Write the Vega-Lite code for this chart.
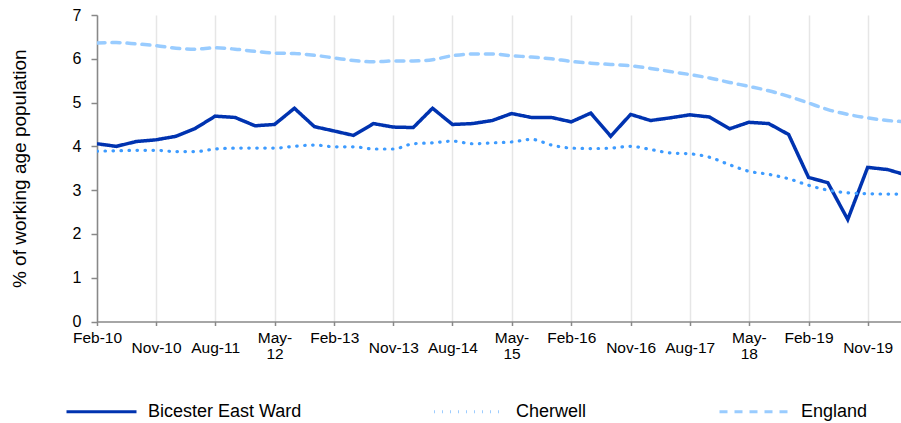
{
  "$schema": "https://vega.github.io/schema/vega-lite/v6.json",
  "width": 804,
  "height": 306.5,
  "autosize": {"type": "none"},
  "padding": {"left": 97, "top": 15, "right": 0, "bottom": 101.5},
  "background": "white",
  "config": {"view": {"stroke": null}, "font": "Liberation Sans"},
  "data": {"values": [
    {"d": "2010-02-01", "Bicester East Ward": 4.06, "Cherwell": 3.89, "England": 6.36},
    {"d": "2010-05-01", "Bicester East Ward": 4.00, "Cherwell": 3.90, "England": 6.37},
    {"d": "2010-08-01", "Bicester East Ward": 4.11, "Cherwell": 3.91, "England": 6.34},
    {"d": "2010-11-01", "Bicester East Ward": 4.15, "Cherwell": 3.91, "England": 6.30},
    {"d": "2011-02-01", "Bicester East Ward": 4.23, "Cherwell": 3.88, "England": 6.24},
    {"d": "2011-05-01", "Bicester East Ward": 4.41, "Cherwell": 3.88, "England": 6.22},
    {"d": "2011-08-01", "Bicester East Ward": 4.69, "Cherwell": 3.94, "England": 6.25},
    {"d": "2011-11-01", "Bicester East Ward": 4.66, "Cherwell": 3.96, "England": 6.22},
    {"d": "2012-02-01", "Bicester East Ward": 4.47, "Cherwell": 3.96, "England": 6.17},
    {"d": "2012-05-01", "Bicester East Ward": 4.50, "Cherwell": 3.96, "England": 6.13},
    {"d": "2012-08-01", "Bicester East Ward": 4.87, "Cherwell": 4.00, "England": 6.12},
    {"d": "2012-11-01", "Bicester East Ward": 4.45, "Cherwell": 4.03, "England": 6.08},
    {"d": "2013-02-01", "Bicester East Ward": 4.35, "Cherwell": 3.99, "England": 6.02},
    {"d": "2013-05-01", "Bicester East Ward": 4.25, "Cherwell": 3.99, "England": 5.96},
    {"d": "2013-08-01", "Bicester East Ward": 4.52, "Cherwell": 3.94, "England": 5.93},
    {"d": "2013-11-01", "Bicester East Ward": 4.44, "Cherwell": 3.94, "England": 5.95},
    {"d": "2014-02-01", "Bicester East Ward": 4.43, "Cherwell": 4.06, "England": 5.95},
    {"d": "2014-05-01", "Bicester East Ward": 4.87, "Cherwell": 4.08, "England": 5.98},
    {"d": "2014-08-01", "Bicester East Ward": 4.50, "Cherwell": 4.12, "England": 6.07},
    {"d": "2014-11-01", "Bicester East Ward": 4.52, "Cherwell": 4.06, "England": 6.11},
    {"d": "2015-02-01", "Bicester East Ward": 4.59, "Cherwell": 4.08, "England": 6.11},
    {"d": "2015-05-01", "Bicester East Ward": 4.75, "Cherwell": 4.10, "England": 6.07},
    {"d": "2015-08-01", "Bicester East Ward": 4.66, "Cherwell": 4.16, "England": 6.04},
    {"d": "2015-11-01", "Bicester East Ward": 4.66, "Cherwell": 4.03, "England": 6.00},
    {"d": "2016-02-01", "Bicester East Ward": 4.56, "Cherwell": 3.96, "England": 5.94},
    {"d": "2016-05-01", "Bicester East Ward": 4.76, "Cherwell": 3.95, "England": 5.90},
    {"d": "2016-08-01", "Bicester East Ward": 4.23, "Cherwell": 3.96, "England": 5.87},
    {"d": "2016-11-01", "Bicester East Ward": 4.73, "Cherwell": 4.00, "England": 5.84},
    {"d": "2017-02-01", "Bicester East Ward": 4.59, "Cherwell": 3.93, "England": 5.78},
    {"d": "2017-05-01", "Bicester East Ward": 4.65, "Cherwell": 3.85, "England": 5.71},
    {"d": "2017-08-01", "Bicester East Ward": 4.72, "Cherwell": 3.83, "England": 5.64},
    {"d": "2017-11-01", "Bicester East Ward": 4.67, "Cherwell": 3.75, "England": 5.56},
    {"d": "2018-02-01", "Bicester East Ward": 4.40, "Cherwell": 3.58, "England": 5.46},
    {"d": "2018-05-01", "Bicester East Ward": 4.55, "Cherwell": 3.43, "England": 5.37},
    {"d": "2018-08-01", "Bicester East Ward": 4.52, "Cherwell": 3.36, "England": 5.27},
    {"d": "2018-11-01", "Bicester East Ward": 4.27, "Cherwell": 3.26, "England": 5.14},
    {"d": "2019-02-01", "Bicester East Ward": 3.29, "Cherwell": 3.11, "England": 4.99},
    {"d": "2019-05-01", "Bicester East Ward": 3.17, "Cherwell": 3.00, "England": 4.84},
    {"d": "2019-08-01", "Bicester East Ward": 2.33, "Cherwell": 2.94, "England": 4.73},
    {"d": "2019-11-01", "Bicester East Ward": 3.52, "Cherwell": 2.92, "England": 4.65},
    {"d": "2020-02-01", "Bicester East Ward": 3.47, "Cherwell": 2.91, "England": 4.59},
    {"d": "2020-05-01", "Bicester East Ward": 3.34, "Cherwell": 2.91, "England": 4.56}
  ]},
  "transform": [{"fold": ["Bicester East Ward", "Cherwell", "England"], "as": ["series", "value"]}],
  "encoding": {
    "x": {
      "field": "d", "type": "temporal",
      "scale": {"type": "utc", "domain": [{"year": 2010, "month": 2, "date": 1, "utc": true}, {"year": 2020, "month": 4, "date": 3, "utc": true}]},
      "axis": {
        "title": null,
        "values": [
          {"year": 2010, "month": 2, "date": 1, "utc": true},
          {"year": 2010, "month": 11, "date": 1, "utc": true},
          {"year": 2011, "month": 8, "date": 1, "utc": true},
          {"year": 2012, "month": 5, "date": 1, "utc": true},
          {"year": 2013, "month": 2, "date": 1, "utc": true},
          {"year": 2013, "month": 11, "date": 1, "utc": true},
          {"year": 2014, "month": 8, "date": 1, "utc": true},
          {"year": 2015, "month": 5, "date": 1, "utc": true},
          {"year": 2016, "month": 2, "date": 1, "utc": true},
          {"year": 2016, "month": 11, "date": 1, "utc": true},
          {"year": 2017, "month": 8, "date": 1, "utc": true},
          {"year": 2018, "month": 5, "date": 1, "utc": true},
          {"year": 2019, "month": 2, "date": 1, "utc": true},
          {"year": 2019, "month": 11, "date": 1, "utc": true}
        ],
        "labelExpr": "utcFormat(datum.value,'%b')=='May' ? ['May-', utcFormat(datum.value,'%y')] : utcFormat(datum.value,'%b-%y')",
        "labelLineHeight": 16,
        "labelFontSize": 15.5,
        "labelColor": "#000",
        "labelOverlap": false,
        "labelFlush": false,
        "labelBound": false,
        "labelPadding": {"condition": {"test": "utcFormat(datum.value,'%b')=='Nov' || utcFormat(datum.value,'%b')=='Aug'", "value": 15}, "value": 5},
        "tickSize": 4,
        "tickColor": "#888",
        "tickWidth": 1.5,
        "domainColor": "#888",
        "domainWidth": 1.5,
        "grid": true,
        "gridColor": "#e6e6e6",
        "gridWidth": 1.5
      }
    },
    "y": {
      "field": "value", "type": "quantitative",
      "scale": {"domain": [0, 7], "nice": false},
      "axis": {
        "title": "% of working age population",
        "titleFontSize": 19,
        "titleFontWeight": "normal",
        "titleColor": "#000",
        "titlePadding": 43,
        "values": [0, 1, 2, 3, 4, 5, 6, 7],
        "labelFontSize": 16,
        "labelColor": "#000",
        "labelPadding": 10,
        "tickSize": 6,
        "tickColor": "#888",
        "tickWidth": 1.5,
        "domainColor": "#888",
        "domainWidth": 1.5,
        "grid": false
      }
    },
    "color": {
      "field": "series", "type": "nominal",
      "scale": {"domain": ["Bicester East Ward", "Cherwell", "England"], "range": ["#0033b0", "#3d9bff", "#99ccff"]},
      "legend": {
        "orient": "none", "legendX": -32, "legendY": 360, "direction": "horizontal", "title": null,
        "symbolType": "stroke", "symbolSize": 4900, "symbolStrokeWidth": 3,
        "labelFontSize": 18, "labelColor": "#000", "labelOffset": 10, "labelLimit": 400, "columnPadding": 126
      }
    },
    "strokeDash": {
      "field": "series", "type": "nominal",
      "scale": {"domain": ["Bicester East Ward", "Cherwell", "England"], "range": [[1, 0], [0.5, 7.5], [8, 7]]},
      "legend": {
        "orient": "none", "legendX": -32, "legendY": 360, "direction": "horizontal", "title": null,
        "symbolType": "stroke", "symbolSize": 4900, "symbolStrokeWidth": 3,
        "labelFontSize": 18, "labelColor": "#000", "labelOffset": 10, "labelLimit": 400, "columnPadding": 126
      }
    }
  },
  "layer": [
    {"transform": [{"filter": "datum.series === 'Bicester East Ward'"}], "mark": {"type": "line", "strokeWidth": 3.5, "strokeJoin": "miter", "clip": true}},
    {"transform": [{"filter": "datum.series === 'Cherwell'"}], "mark": {"type": "line", "interpolate": "monotone", "strokeWidth": 3.2, "strokeCap": "round", "clip": true}},
    {"transform": [{"filter": "datum.series === 'England'"}], "mark": {"type": "line", "interpolate": "monotone", "strokeWidth": 3.5, "strokeCap": "round", "clip": true}}
  ]
}
